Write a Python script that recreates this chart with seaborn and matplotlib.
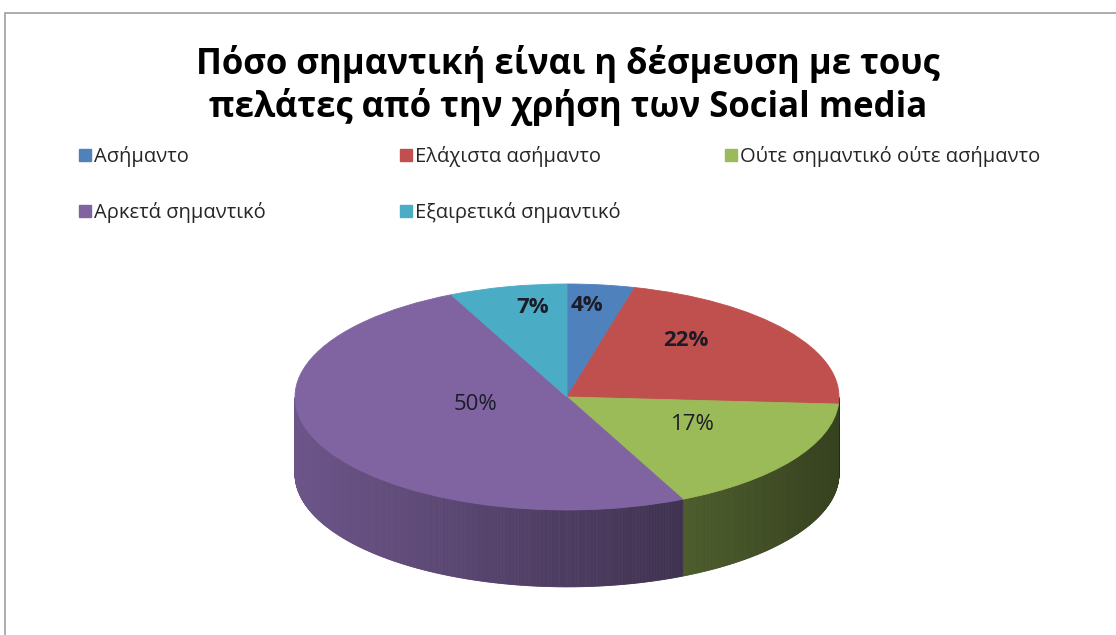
import numpy as np
import matplotlib
matplotlib.use("Agg")
import matplotlib.pyplot as plt
import seaborn as sns
from matplotlib.collections import PolyCollection
from matplotlib.lines import Line2D
from matplotlib.patches import Rectangle
from matplotlib.colors import to_rgb

# ---- data -------------------------------------------------------------
categories = [
    "Ασήμαντο",
    "Ελάχιστα ασήμαντο",
    "Ούτε σημαντικό ούτε ασήμαντο",
    "Αρκετά σημαντικό",
    "Εξαιρετικά σημαντικό",
]
shares = [4, 22, 17, 50, 7]
title_lines = [
    "Πόσο σημαντική είναι η δέσμευση με τους",
    "πελάτες από την χρήση των Social media",
]

# ---- style ------------------------------------------------------------
sns.set_theme(style="white")
plt.rcParams["font.family"] = ["Open Sans", "DejaVu Sans"]
palette = sns.color_palette(["#4f81bd", "#c0504d", "#9bbb59", "#8064a2", "#4bacc6"])

W, H = 1116, 635
fig = plt.figure(figsize=(W / 100, H / 100), dpi=100)
fig.patch.set_facecolor("white")

# chart-area border (top and left edges visible)
fig.patches.append(Rectangle((5 / W, -0.1), 1.2, (H - 13) / H + 0.1,
                             transform=fig.transFigure, fill=False,
                             edgecolor="#a6a6a6", linewidth=1.3))

# ---- axes placed so the pie top is an ellipse -------------------------
cx, cy = 567, 397          # pixel centre of the top face
rx, ry = 272, 113          # pixel semi-axes of the top face
depth = 0.68               # thickness of the disc in y-data units
xlim = (-1.05, 1.05)
ylim = (-1.9, 1.05)
left_px = cx + xlim[0] * rx
right_px = cx + xlim[1] * rx
top_px = cy - ylim[1] * ry
bot_px = cy - ylim[0] * ry
ax = fig.add_axes([left_px / W, (H - bot_px) / H,
                   (right_px - left_px) / W, (bot_px - top_px) / H])

wedges, _ = ax.pie(shares, colors=palette, startangle=90, counterclock=False,
                   radius=1, center=(0, 0), frame=True)
for w, c in zip(wedges, palette):
    w.set_edgecolor(c)
    w.set_linewidth(0.6)
    w.set_zorder(3)

# ---- side wall of the disc, shaded left-to-right ----------------------
def shade(rgb, x):
    f = np.clip(0.6 - 0.25 * x, 0.3, 0.9)
    return tuple(np.array(rgb) * f)

total = float(sum(shares))
start = 90.0
polys, fcols = [], []
for val, col in zip(shares, palette):
    sweep = 360.0 * val / total
    a0, a1 = start - sweep, start
    start -= sweep
    th = np.radians(np.linspace(a0, a1, max(int(sweep * 3), 4)))
    for t0, t1 in zip(th[:-1], th[1:]):
        if np.sin(t0) > 0 or np.sin(t1) > 0:
            continue
        x0, y0 = np.cos(t0), np.sin(t0)
        x1, y1 = np.cos(t1), np.sin(t1)
        polys.append([(x0, y0), (x1, y1), (x1, y1 - depth), (x0, y0 - depth)])
        fcols.append(shade(to_rgb(col), 0.5 * (x0 + x1)))
side = PolyCollection(polys, facecolors=fcols, edgecolors=fcols,
                      linewidths=0.6, zorder=1)
ax.add_collection(side)

ax.set_aspect("auto")
ax.set_xlim(*xlim)
ax.set_ylim(*ylim)
ax.axis("off")

# ---- percentage labels at the wedge centroids ------------------------------
weights = ["bold", "bold", "normal", "normal", "bold"]
start = 90.0
for val, wgt in zip(shares, weights):
    sweep = 360.0 * val / total
    half = np.radians(sweep / 2)
    mid = np.radians(start - sweep / 2)
    start -= sweep
    k = (2.0 / 3.0) * np.sin(half) / half
    ax.text(0.88 * k * np.cos(mid), 1.04 * k * np.sin(mid) + 0.124, f"{val}%",
            ha="center", va="center", fontsize=16, fontweight=wgt,
            color="#1c1c28", zorder=5)

# ---- title ----------------------------------------------------------------
fig.text(568 / W, 1 - 64 / H, title_lines[0], ha="center", va="center",
         fontsize=25, fontweight="bold", color="black")
fig.text(568 / W, 1 - 107 / H, title_lines[1], ha="center", va="center",
         fontsize=25, fontweight="bold", color="black")

# ---- legend: three columns, filled row by row --------------------------
col_x = [79, 400, 725]
order = [[0, 3], [1, 4], [2]]
for x, idx in zip(col_x, order):
    handles = [Line2D([], [], marker="s", linestyle="", markersize=8,
                      color=palette[i]) for i in idx]
    fig.legend(handles, [categories[i] for i in idx], loc="upper left",
               bbox_to_anchor=(x / W, 1 - 146 / H), frameon=False,
               fontsize=14.5, handlelength=0.6, handletextpad=0.15,
               labelspacing=1.75, borderpad=0, borderaxespad=0,
               labelcolor="#262626")

fig.savefig("out.png", dpi=100)
